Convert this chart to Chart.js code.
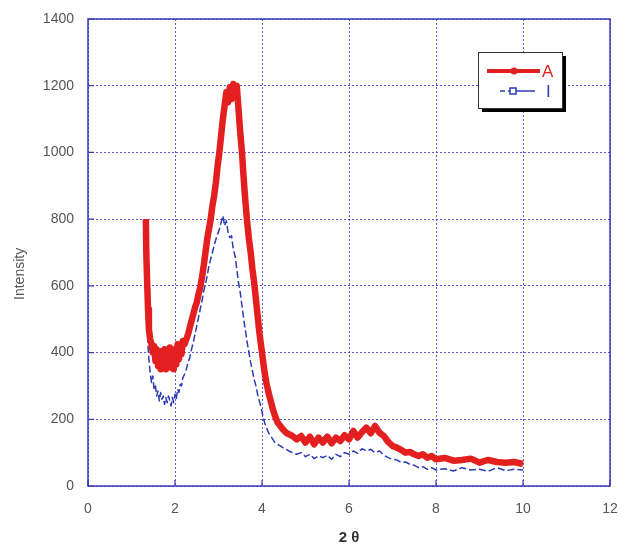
<!DOCTYPE html>
<html>
<head>
<meta charset="utf-8">
<script src="https://cdn.jsdelivr.net/npm/chart.js@4.4.1/dist/chart.umd.min.js"></script>
<style>
  html, body { margin: 0; padding: 0; background: #fff; }
</style>
</head>
<body>
<canvas id="xrdChart" width="620" height="547"></canvas>
<script>
// series A (red, thick)
const xA = [1.33,1.34,1.36,1.38,1.40,
  1.43,1.46,1.49,1.52,1.55,1.58,1.61,1.64,1.67,1.70,1.73,1.76,1.79,1.82,1.85,1.88,1.91,1.94,1.97,2.00,2.03,2.06,2.09,2.12,2.15,2.18,
  2.22,2.26,2.30,2.34,2.38,2.42,2.46,2.50,2.54,2.58,2.62,2.66,2.70,2.74,2.78,2.82,2.86,2.90,2.94,2.98,
  3.02,3.06,3.10,3.14,3.18,3.22,3.26,3.30,3.34,3.38,3.42,3.46,3.50,3.54,3.58,3.62,3.66,3.70,3.74,3.78,3.82,3.86,3.90,3.94,3.98,
  4.02,4.06,4.10,4.15,4.20,4.25,4.30,4.36,4.42,4.48,4.55,4.62,4.70,
  4.8,4.9,5.0,5.1,5.2,5.3,5.4,5.5,5.6,5.7,5.8,5.9,6.0,6.1,6.2,6.3,6.4,6.5,6.6,6.7,6.8,6.9,7.0,7.1,7.2,7.3,7.4,7.5,7.6,7.7,7.8,7.9,8.0,
  8.2,8.4,8.6,8.8,9.0,9.2,9.4,9.6,9.8,10.0];
const yA = [800,700,610,530,470,
  440,425,400,420,375,410,360,400,350,405,355,410,350,400,360,415,355,405,350,410,365,425,380,420,395,435,
  425,440,455,475,495,515,535,550,575,595,625,660,700,740,770,800,840,870,910,960,
  1000,1050,1100,1140,1180,1150,1195,1160,1205,1165,1200,1130,1060,1000,920,850,790,740,700,650,610,560,510,460,420,
  380,340,310,280,255,230,210,190,180,170,160,155,150,
  140,150,130,148,125,145,130,148,128,145,135,152,140,165,145,162,175,158,180,160,150,132,120,115,108,100,102,95,90,95,85,90,80,
  84,76,78,82,70,78,72,70,72,66];

// series I (blue, dashed)
const xI = xA.slice();
const yI = [720,600,480,420,380,
  340,310,330,290,300,270,285,255,280,260,270,245,265,250,270,255,240,265,250,275,260,290,280,305,300,325,
  335,350,370,385,410,430,455,480,505,530,555,585,605,630,660,680,700,720,740,755,
  770,790,810,780,795,760,745,750,710,690,650,610,580,540,500,465,430,400,370,345,320,300,275,255,235,
  210,190,175,160,150,140,130,125,120,115,110,105,100,
  95,100,88,95,82,90,85,92,80,95,88,100,95,105,98,112,105,110,100,105,92,85,80,78,70,72,65,62,55,58,50,55,48,
  52,45,55,48,50,44,55,46,50,48];

const seriesNames = ["A", "I"];
const xTicks = [0, 2, 4, 6, 8, 10, 12];
const yTicks = [0, 200, 400, 600, 800, 1000, 1200, 1400];

const red = "#e3201f";
const blue = "#2b3bb3";
const gridBlue = "rgba(60,60,200,0.85)";

Chart.defaults.font.family = "'Liberation Sans', Arial, sans-serif";

function toPoints(xs, ys) {
  return xs.map((x, i) => ({ x: x, y: ys[i] }));
}

// box around the plot + short inward tick marks
const framePlugin = {
  id: "frame",
  afterDraw(chart) {
    const { ctx, chartArea: a, scales } = chart;
    ctx.save();
    ctx.strokeStyle = "#3a3ab8";
    ctx.lineWidth = 1.5;
    ctx.strokeRect(a.left, a.top, a.right - a.left, a.bottom - a.top);
    ctx.lineWidth = 1.2;
    ctx.beginPath();
    xTicks.forEach(v => {
      const px = scales.x.getPixelForValue(v);
      ctx.moveTo(px, a.bottom);
      ctx.lineTo(px, a.bottom - 6);
    });
    yTicks.forEach(v => {
      const py = scales.y.getPixelForValue(v);
      ctx.moveTo(a.left, py);
      ctx.lineTo(a.left + 6, py);
    });
    ctx.stroke();
    ctx.restore();
  }
};

// boxed legend with drop shadow, like the original plot
const boxLegend = {
  id: "boxLegend",
  afterDraw(chart) {
    const ctx = chart.ctx;
    const ds = chart.data.datasets;
    const bx = 478, by = 52, bw = 84, bh = 56;
    ctx.save();
    ctx.fillStyle = "#000";
    ctx.fillRect(bx + 4, by + 4, bw, bh);
    ctx.fillStyle = "#fff";
    ctx.fillRect(bx, by, bw, bh);
    ctx.strokeStyle = "#333";
    ctx.lineWidth = 1;
    ctx.strokeRect(bx + 0.5, by + 0.5, bw, bh);

    // row A
    let y = 71;
    ctx.strokeStyle = ds[0].borderColor;
    ctx.lineWidth = 4;
    ctx.beginPath();
    ctx.moveTo(487, y);
    ctx.lineTo(540, y);
    ctx.stroke();
    ctx.fillStyle = ds[0].borderColor;
    ctx.beginPath();
    ctx.arc(514, y, 3.5, 0, Math.PI * 2);
    ctx.fill();
    ctx.font = "17px 'Liberation Sans', Arial, sans-serif";
    ctx.textBaseline = "middle";
    ctx.fillText(ds[0].label, 542, y + 1);

    // row I
    y = 91;
    ctx.strokeStyle = ds[1].borderColor;
    ctx.lineWidth = 1.5;
    ctx.setLineDash([5, 3]);
    ctx.beginPath();
    ctx.moveTo(500, y);
    ctx.lineTo(510, y);
    ctx.stroke();
    ctx.setLineDash([]);
    ctx.beginPath();
    ctx.moveTo(516, y);
    ctx.lineTo(535, y);
    ctx.stroke();
    ctx.strokeRect(510, y - 3, 6, 6);
    ctx.fillStyle = ds[1].borderColor;
    ctx.fillText(ds[1].label, 546, y + 1);
    ctx.restore();
  }
};

const ctx = document.getElementById("xrdChart");
new Chart(ctx, {
  type: "line",
  data: {
    datasets: [
      {
        label: seriesNames[0],
        data: toPoints(xA, yA),
        borderColor: red,
        backgroundColor: red,
        borderWidth: 6.5,
        borderJoinStyle: "round",
        pointRadius: 0,
        tension: 0,
      },
      {
        label: seriesNames[1],
        data: toPoints(xI, yI),
        borderColor: blue,
        backgroundColor: blue,
        borderWidth: 1.5,
        borderDash: [7, 3],
        borderJoinStyle: "round",
        pointRadius: 0,
        tension: 0,
      },
    ],
  },
  options: {
    responsive: false,
    animation: false,
    layout: { padding: { top: 19, right: 10, left: 0, bottom: 0 } },
    scales: {
      x: {
        type: "linear",
        min: 0,
        max: 12,
        afterBuildTicks: axis => { axis.ticks = xTicks.map(v => ({ value: v })); },
        afterFit: axis => { axis.height = 61; axis.paddingLeft = 0; axis.paddingRight = 0; },
        ticks: { color: "#555", font: { size: 14 }, padding: 15, callback: v => String(v) },
        grid: { color: gridBlue, lineWidth: 1, drawTicks: false },
        border: { display: false, dash: [2, 2] },
        title: {
          display: true,
          text: "2 θ",
          color: "#333",
          font: { size: 15, weight: "bold" },
          padding: { top: 0, bottom: 0 },
        },
      },
      y: {
        min: 0,
        max: 1400,
        afterBuildTicks: axis => { axis.ticks = yTicks.map(v => ({ value: v })); },
        afterFit: axis => { axis.width = 88; axis.paddingTop = 0; axis.paddingBottom = 0; },
        ticks: { color: "#555", font: { size: 14 }, padding: 14, callback: v => String(v) },
        grid: { color: gridBlue, lineWidth: 1, drawTicks: false },
        border: { display: false, dash: [2, 2] },
        title: {
          display: true,
          text: "Intensity           ",
          color: "#555",
          font: { size: 14 },
          padding: { top: 12, bottom: 0 },
        },
      },
    },
    plugins: {
      legend: { display: false },
      tooltip: { enabled: false },
    },
  },
  plugins: [framePlugin, boxLegend],
});
</script>
</body>
</html>
